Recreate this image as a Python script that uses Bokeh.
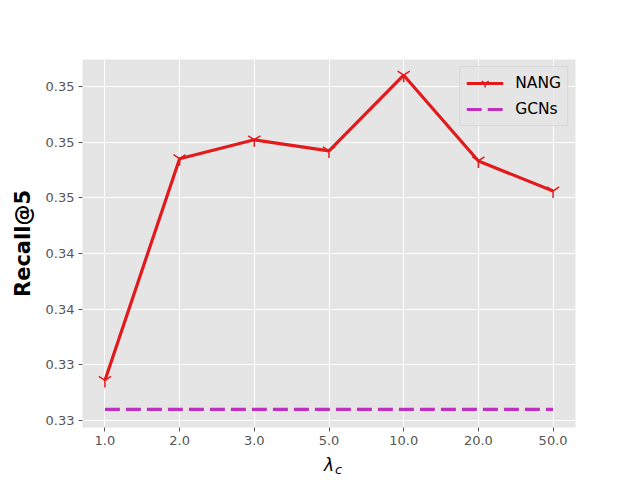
from bokeh.plotting import figure
from bokeh.embed import file_html
from bokeh.resources import INLINE
from bokeh.models import FixedTicker, CustomJSTickFormatter, LinearAxis, Legend, LegendItem, Range1d

categories = ["1.0", "2.0", "3.0", "5.0", "10.0", "20.0", "50.0"]
nang = [0.3286, 0.3485, 0.3502, 0.3492, 0.3560, 0.3483, 0.3456]
gcns = [0.3260, 0.3260, 0.3260, 0.3260, 0.3260, 0.3260, 0.3260]
y_ticks = [0.325, 0.330, 0.335, 0.340, 0.345, 0.350, 0.355]
y_tick_labels = ["0.33", "0.33", "0.34", "0.34", "0.35", "0.35", "0.35"]

xs = list(range(len(categories)))
ymin, ymax = 0.32437, 0.35741

p = figure(frame_width=493, frame_height=368, min_border_left=82, min_border_right=65,
           min_border_top=59, min_border_bottom=53,
           output_backend="svg", toolbar_location=None,
           x_range=Range1d(-0.3, 6.3), y_range=Range1d(ymin, ymax))
p.background_fill_color = "#E5E5E5"
p.border_fill_color = "white"
p.outline_line_color = None

for ax in (p.xaxis[0], p.yaxis[0]):
    ax.axis_line_color = None
    ax.major_tick_line_color = "#555555"
    ax.major_tick_out = 4
    ax.major_tick_in = 0
    ax.minor_tick_line_color = None
    ax.major_label_text_color = "#555555"
    ax.major_label_text_font = "DejaVu Sans"
    ax.major_label_text_font_size = "13px"

p.xaxis.ticker = FixedTicker(ticks=xs)
p.xaxis.major_label_overrides = {i: c for i, c in enumerate(categories)}
p.xaxis.major_label_standoff = 4
p.yaxis.ticker = FixedTicker(ticks=y_ticks)
p.yaxis.formatter = CustomJSTickFormatter(args=dict(tvals=y_ticks, tlabels=y_tick_labels), code="""
let best = 0;
for (let i = 0; i < tvals.length; i++) {
  if (Math.abs(tvals[i] - tick) < Math.abs(tvals[best] - tick)) best = i;
}
return tlabels[best];
""")
p.yaxis.major_label_standoff = 4

p.xgrid.grid_line_color = "white"
p.ygrid.grid_line_color = "white"
p.xgrid.grid_line_width = 1
p.ygrid.grid_line_width = 1

p.yaxis.axis_label = "Recall@5"
p.yaxis.axis_label_text_font = "DejaVu Sans"
p.yaxis.axis_label_text_font_style = "bold"
p.yaxis.axis_label_text_font_size = "21px"
p.yaxis.axis_label_text_color = "black"
p.yaxis.axis_label_standoff = 8

p.xaxis.axis_label = "λ"
p.xaxis.axis_label_text_font = "DejaVu Sans"
p.xaxis.axis_label_text_font_style = "italic"
p.xaxis.axis_label_text_font_size = "17px"
p.xaxis.axis_label_text_color = "black"
p.xaxis.axis_label_standoff = 7

# subscript "c" of the x-axis label, drawn as the single label of a bare extra axis
sub_axis = LinearAxis(ticker=FixedTicker(ticks=[3.127]),
                      formatter=CustomJSTickFormatter(code="return 'c'"))
sub_axis.axis_line_color = None
sub_axis.major_tick_line_color = None
sub_axis.minor_tick_line_color = None
sub_axis.major_tick_out = 0
sub_axis.major_tick_in = 0
sub_axis.major_label_standoff = -16
sub_axis.major_label_text_font = "DejaVu Sans"
sub_axis.major_label_text_font_style = "italic"
sub_axis.major_label_text_font_size = "13px"
sub_axis.major_label_text_color = "black"
p.add_layout(sub_axis, "below")

red = "#e31a1c"
mag = "#c030c0"
l1 = p.line(xs, nang, line_color=red, line_width=3.2)
s1 = p.scatter(xs, nang, marker="y", size=14, line_color=red, line_width=1.5)
l2 = p.line(xs, gcns, line_color=mag, line_width=3.2, line_dash="15 6")

legend = Legend(items=[LegendItem(label="NANG", renderers=[l1, s1]),
                       LegendItem(label="GCNs", renderers=[l2])],
                location="top_right")
legend.label_text_font = "DejaVu Sans"
legend.label_text_font_size = "15.5px"
legend.label_text_color = "black"
legend.glyph_width = 37
legend.glyph_height = 20
legend.label_standoff = 12
legend.spacing = 6
legend.padding = 6
legend.margin = 7
legend.background_fill_color = "#E5E5E5"
legend.background_fill_alpha = 0.8
legend.border_line_color = "#CCCCCC"
legend.border_line_width = 1
p.add_layout(legend)

open("out.html", "w").write(file_html(p, INLINE))
